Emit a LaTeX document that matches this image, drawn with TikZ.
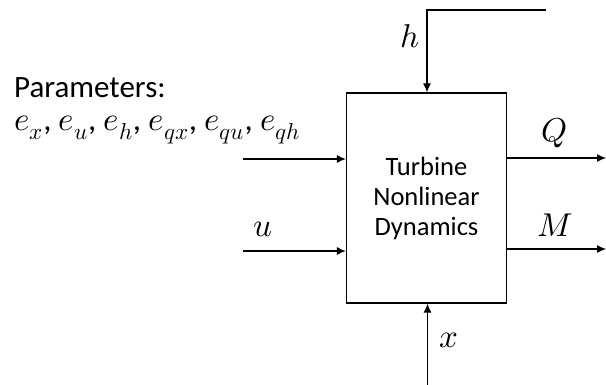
\documentclass[tikz,border=0pt]{standalone}
\usepackage{unicode-math}
\setmainfont{Carlito}
\usetikzlibrary{arrows.meta,positioning}

\tikzset{
  sig/.style={draw=black, line width=1.1pt, -{Latex[length=9pt,width=8pt]}},
  lbl/.style={font=\fontsize{33}{36}\selectfont},
  txt/.style={font=\fontsize{31}{33}\selectfont, align=left},
  blocktext/.style={font=\fontsize{26.5}{30}\selectfont, align=center}
}

\begin{document}
\begin{tikzpicture}[x=1pt, y=-1pt]
  \useasboundingbox (0,0) rectangle (606,385);
  % the block
  \node[draw, line width=1.3pt, minimum width=160pt, minimum height=210pt,
        blocktext] (turbine) at (426.5,198) {Turbine\\Nonlinear\\Dynamics};
  % free ends
  \coordinate (hend) at (546,10);
  \coordinate (hcorner) at (427,10);
  \coordinate (pstart) at (243,159);
  \coordinate (ustart) at (243,251);
  \coordinate (xstart) at (427.5,385);
  \coordinate (qend) at (606,158);
  \coordinate (mend) at (606,249);
  % connectors
  \draw[sig] (hend) -- (hcorner) -- (hcorner |- turbine.north);
  \draw[sig] (pstart) -- (pstart -| turbine.west);
  \draw[sig] (ustart) -- (ustart -| turbine.west);
  \draw[sig] (xstart) -- (xstart |- turbine.south);
  \draw[sig] (qend -| turbine.east) -- (qend);
  \draw[sig] (mend -| turbine.east) -- (mend);
  % labels
  \node[lbl] (hlab) at (410,36) {$h$};
  \node[lbl] (qlab) at (555,133) {$Q$};
  \node[lbl] (mlab) at (555,225) {$M$};
  \node[lbl] (ulab) at (263,229) {$u$};
  \node[lbl] (xlab) at (449,340) {$x$};
  \node[txt, anchor=base west, inner sep=0pt] (params) at (14,131)
    {Parameters:\\\fontsize{33}{33}\selectfont$e_x$, $e_u$, $e_h$, $e_{qx}$, $e_{qu}$, $e_{qh}$};
\end{tikzpicture}
\end{document}
